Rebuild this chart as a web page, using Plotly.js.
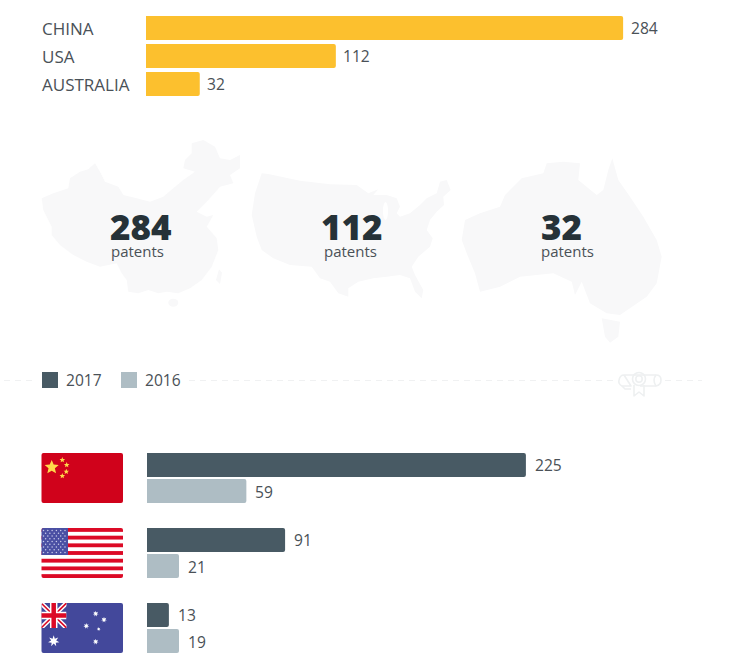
<!DOCTYPE html>
<html><head><meta charset="utf-8">
<script src="https://cdn.plot.ly/plotly-3.0.1.min.js"></script>
<style>html,body{margin:0;padding:0;background:#fff;overflow:hidden}#c{width:731px;height:662px}</style>
</head><body><div id="c"></div>
<script>
// ---- data ----
const countries = ['CHINA', 'USA', 'AUSTRALIA'];
const totals = [284, 112, 32];
const totalUnit = 'patents';
const years = ['2017', '2016'];
// Printed labels of the lower chart
const labels2017 = [225, 91, 13];
const labels2016 = [59, 21, 19];
// Bar lengths as drawn in the source (some bars there differ from their printed labels)
const totalLengths = [284, 113, 32];
const lengths2017 = [225, 82, 13];
const lengths2016 = [59, 19, 19];

// ---- style ----
const W = 731, H = 662;
const YELLOW = '#FCC02E', DARK = '#485A64', LIGHT = '#AEBDC4';
const TXT = '#4A5157', INK = '#263238', FONT = '"Open Sans", sans-serif';
const px = x => x / W, py = y => 1 - y / H;
const SCALE = 1.68;

// ---- decoration: map silhouettes, flags and icon, as one SVG backdrop ----
function poly(pts, ox, oy) {
  let s = '';
  for (let i = 0; i < pts.length; i += 2) s += (pts[i] / 3 + ox).toFixed(1) + ',' + (pts[i + 1] / 3 + oy).toFixed(1) + ' ';
  return s;
}
const chinaOutline = [65,205,100,190,145,175,150,145,180,125,205,118,225,100,240,125,255,155,295,170,310,195,350,205,390,215,430,200,460,175,490,150,525,125,490,115,495,90,515,70,515,40,550,30,585,50,600,85,630,90,660,75,660,115,630,135,640,160,600,170,565,210,530,245,560,260,580,255,560,290,590,325,595,360,575,410,545,450,510,475,475,490,440,485,415,490,385,480,355,490,325,485,320,450,305,430,290,400,240,410,200,395,160,375,120,345,95,315,95,290,70,240];
const taiwanOutline = [597,418,606,428,600,462,588,450];
const usaOutline = [65,70,85,72,180,92,270,103,350,105,385,130,415,118,400,135,440,135,470,145,480,170,470,190,480,200,510,190,540,165,560,145,590,130,600,95,620,90,632,120,610,140,612,165,590,185,570,210,560,240,578,265,570,290,535,320,515,350,525,375,550,420,545,445,525,425,510,385,480,375,440,380,400,385,355,395,325,415,325,440,295,430,270,395,240,385,215,350,150,345,100,325,65,300,50,260,35,195,45,130];
const ausOutline = [35,270,45,210,90,190,150,170,165,135,215,85,280,70,290,40,340,35,390,40,385,90,440,135,460,120,475,60,487,25,505,90,540,140,580,200,620,270,635,320,620,400,590,440,510,495,470,490,420,460,395,395,375,435,365,395,310,370,210,380,150,410,90,425,75,370,50,310];
const tasOutline = [455,505,510,515,505,560,480,578,465,560];

function star(cx, cy, r, n, fill) {
  n = n || 5; let p = '';
  for (let i = 0; i < n * 2; i++) {
    const a = -Math.PI / 2 + i * Math.PI / n, q = i % 2 ? r * 0.45 : r;
    p += (cx + q * Math.cos(a)).toFixed(2) + ',' + (cy + q * Math.sin(a)).toFixed(2) + ' ';
  }
  return `<polygon points="${p}" fill="${fill}"/>`;
}
let svg = `<svg xmlns="http://www.w3.org/2000/svg" width="${W}" height="${H}" viewBox="0 0 ${W} ${H}">`;
const MAP = '#F8F8F9';
svg += `<polygon fill="${MAP}" points="${poly(chinaOutline, 20, 130)}"/>`;
svg += `<polygon fill="${MAP}" points="${poly(taiwanOutline, 20, 130)}"/>`;
svg += `<ellipse fill="${MAP}" cx="173.3" cy="302.7" rx="5" ry="4"/>`;
svg += `<polygon fill="${MAP}" points="${poly(usaOutline, 240, 150)}"/>`;
svg += `<ellipse fill="#fff" cx="385.5" cy="211" rx="2.6" ry="9"/>`;
svg += `<polygon fill="${MAP}" points="${poly(ausOutline, 450, 150)}"/>`;
svg += `<polygon fill="${MAP}" points="${poly(tasOutline, 450, 150)}"/>`;

// diploma icon
svg += `<g fill="none" stroke="#EEF0F1" stroke-width="1.6" stroke-linejoin="round">
<path d="M624 375 H656 Q661 375 661 380 Q661 385 656 386 H640 M631 386 H622 Q618 384 619 380 Q620 375 624 375 Z"/>
<path d="M656 375 Q652 380 656 386"/><path d="M622 386 L625 389 H631"/>
<circle cx="639" cy="379" r="6.5"/><circle cx="639" cy="379" r="3.2"/>
<path d="M634 385 V396 L639 392 L644 396 V385"/></g>`;

// China flag
svg += `<clipPath id="f1"><rect x="41.5" y="453" width="81.5" height="50" rx="2"/></clipPath><g clip-path="url(#f1)">`;
svg += `<rect x="41" y="453" width="82" height="50" fill="#D0021B"/>`;
svg += star(51.7, 467.3, 7.4, 5, '#FFD94A');
[[62.3,460],[66.7,465],[66.3,471.7],[62.3,476]].forEach(s => svg += star(s[0], s[1], 2.9, 5, '#FFD94A'));
svg += `</g>`;

// USA flag
svg += `<clipPath id="f2"><rect x="41.5" y="528" width="81.5" height="50" rx="2"/></clipPath><g clip-path="url(#f2)">`;
svg += `<rect x="41" y="528" width="82" height="50" fill="#fff"/>`;
for (let i = 0; i < 7; i++) svg += `<rect x="41" y="${(528 + i * 7.69).toFixed(2)}" width="82" height="3.85" fill="#DC0A26"/>`;
svg += `<rect x="41" y="528" width="27" height="27" fill="#4A4FA3"/>`;
for (let r = 0; r < 9; r++) for (let c = 0; c < (r % 2 ? 5 : 6); c++)
  svg += `<circle cx="${(43.5 + (r % 2 ? 2.1 : 0) + c * 4.3).toFixed(1)}" cy="${(530.5 + r * 2.75).toFixed(1)}" r="0.75" fill="#C9CBEA"/>`;
svg += `</g>`;

// Australia flag
svg += `<clipPath id="f3"><rect x="41.5" y="603" width="81.5" height="50" rx="2"/></clipPath><clipPath id="u"><rect x="41" y="603" width="25.5" height="25"/></clipPath><g clip-path="url(#f3)">`;
svg += `<rect x="41" y="603" width="82" height="50" fill="#43489B"/>`;
svg += `<g clip-path="url(#u)"><path d="M41 603 L66.5 628 M66.5 603 L41 628" stroke="#fff" stroke-width="4.5"/><path d="M41 603 L66.5 628 M66.5 603 L41 628" stroke="#DC0A26" stroke-width="1.6"/>`;
svg += `<path d="M53.7 603 V628 M41 615.5 H66.5" stroke="#fff" stroke-width="7.5"/><path d="M53.7 603 V628 M41 615.5 H66.5" stroke="#DC0A26" stroke-width="4.5"/></g>`;
svg += star(53.7, 641, 5.8, 7, '#fff');
[[95.7,613.7,3],[104,619.7,3],[86.3,626,3],[98.7,629,2],[95.7,641.7,3]].forEach(s => svg += star(s[0], s[1], s[2], 7, '#fff'));
svg += `</g></svg>`;

// ---- traces ----
const traces = [
  { type: 'bar', orientation: 'h', y: countries, x: totalLengths, width: 24 / 28, xaxis: 'x', yaxis: 'y',
    marker: { color: YELLOW, cornerradius: 2 }, name: 'Patents', hoverinfo: 'skip' },
  { type: 'bar', orientation: 'h', y: countries, x: lengths2017, width: 24 / 75, offset: -25 / 75, xaxis: 'x2', yaxis: 'y2',
    marker: { color: DARK, cornerradius: 2 }, name: years[0], hoverinfo: 'skip' },
  { type: 'bar', orientation: 'h', y: countries, x: lengths2016, width: 24 / 75, offset: 1 / 75, xaxis: 'x2', yaxis: 'y2',
    marker: { color: LIGHT, cornerradius: 2 }, name: years[1], hoverinfo: 'skip' }
];

// ---- annotations ----
const ann = [];
const base = { showarrow: false, borderpad: 0, font: { family: FONT, color: TXT, size: 15.6 } };
countries.forEach((c, i) => {
  ann.push({ ...base, xref: 'paper', yref: 'y', x: px(40.5), y: c, text: c, xanchor: 'left', yanchor: 'middle',
    font: { family: FONT, color: TXT, size: 17 } });
  ann.push({ ...base, xref: 'x', yref: 'y', x: totalLengths[i], y: c, xshift: 6.5, text: String(totals[i]), xanchor: 'left', yanchor: 'middle' });
  ann.push({ ...base, xref: 'x2', yref: 'y2', x: lengths2017[i], y: c, yshift: 13, xshift: 8, text: String(labels2017[i]), xanchor: 'left', yanchor: 'middle' });
  ann.push({ ...base, xref: 'x2', yref: 'y2', x: lengths2016[i], y: c, yshift: -14, xshift: 8, text: String(labels2016[i]), xanchor: 'left', yanchor: 'middle' });
});
const bigX = [109, 320, 540];
const unitX = [110, 322.5, 540];
totals.forEach((t, i) => {
  ann.push({ ...base, xref: 'paper', yref: 'paper', x: px(bigX[i]), y: py(227), text: String(t), xanchor: 'left', yanchor: 'middle',
    font: { family: FONT, color: INK, size: 35, weight: 800 } });
  ann.push({ ...base, xref: 'paper', yref: 'paper', x: px(unitX[i]), y: py(250.5), text: totalUnit, xanchor: 'left', yanchor: 'middle',
    font: { family: FONT, color: TXT, size: 15 } });
});
const legendTextX = [64.5, 144], legendSwatchX = [42, 121], legendColors = [DARK, LIGHT];
years.forEach((yr, i) => ann.push({ ...base, xref: 'paper', yref: 'paper', x: px(legendTextX[i]), y: py(380), text: yr, xanchor: 'left', yanchor: 'middle' }));

// ---- shapes ----
const shapes = [];
years.forEach((yr, i) => shapes.push({ type: 'rect', xref: 'paper', yref: 'paper', x0: px(legendSwatchX[i]), x1: px(legendSwatchX[i] + 16), y0: py(372), y1: py(388), fillcolor: legendColors[i], line: { width: 0 } }));
[[4, 37], [189, 613], [665, 702]].forEach(s => shapes.push({ type: 'line', xref: 'paper', yref: 'paper', x0: px(s[0]), x1: px(s[1]), y0: py(380.5), y1: py(380.5), line: { color: '#F0F1F2', width: 1, dash: '6px,5px' } }));

const hidden = { visible: false, fixedrange: true };
const layout = {
  width: W, height: H, autosize: false, margin: { l: 0, r: 0, t: 0, b: 0, pad: 0 },
  paper_bgcolor: '#fff', plot_bgcolor: 'rgba(0,0,0,0)', showlegend: false, barmode: 'overlay',
  xaxis:  { ...hidden, domain: [px(146), 1], range: [0, (W - 146) / SCALE] },
  yaxis:  { ...hidden, domain: [py(110), 1], type: 'category', categoryorder: 'array', categoryarray: countries, range: [82 / 28, -1] },
  xaxis2: { ...hidden, domain: [px(147), 1], range: [0, (W - 147) / 1.684] },
  yaxis2: { ...hidden, domain: [py(660), py(440)], type: 'category', categoryorder: 'array', categoryarray: countries, range: [182 / 75, -38 / 75] },
  annotations: ann, shapes: shapes,
  images: [{ source: 'data:image/svg+xml;charset=utf-8,' + encodeURIComponent(svg), xref: 'paper', yref: 'paper', x: 0, y: 1, sizex: 1, sizey: 1, xanchor: 'left', yanchor: 'top', sizing: 'stretch', layer: 'below' }]
};
Plotly.newPlot('c', traces, layout, { displayModeBar: false, staticPlot: true });
</script></body></html>
